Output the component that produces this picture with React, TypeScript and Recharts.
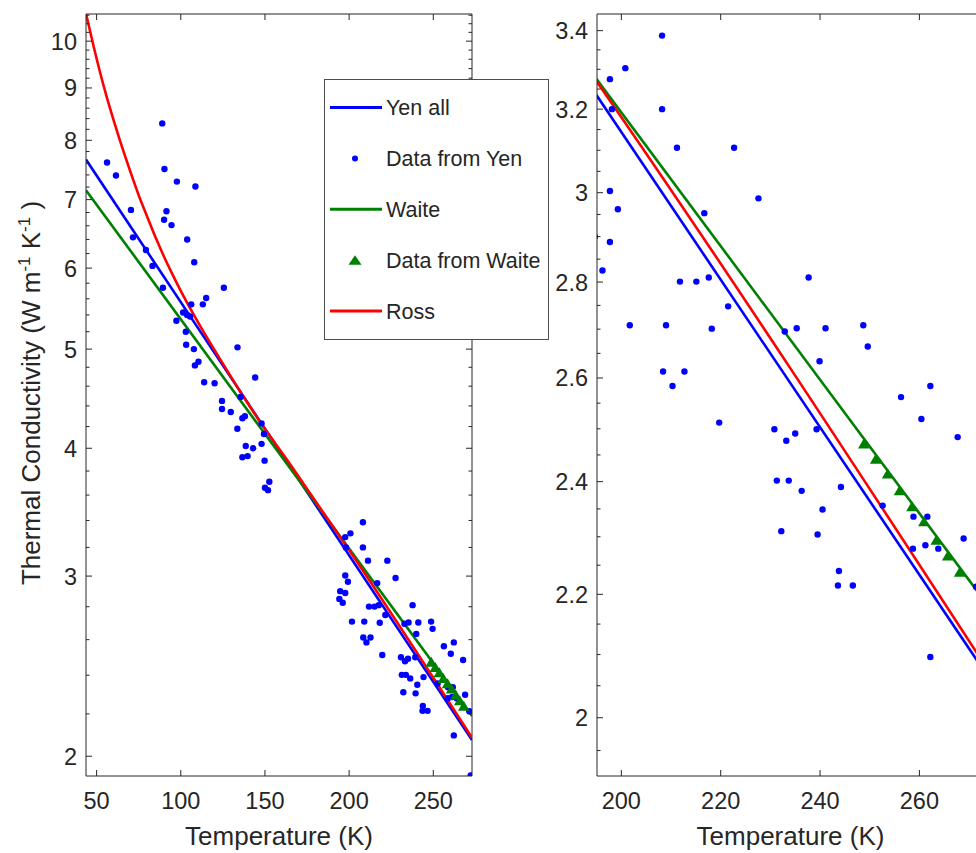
import React from "react"
import {
  ComposedChart, Line, Scatter, XAxis, YAxis, ReferenceLine, Legend,
} from "recharts"

// fitted lines
const YEN_FIT_T = [43.7, 273]
const YEN_FIT_K = [7.66, 2.074]
const WAITE_FIT_T = [43.7, 273]
const WAITE_FIT_K = [7.15, 2.19]
const ROSS_T = [43.7, 48, 52, 56, 60, 65, 70, 75, 80, 85, 90, 95, 100, 112, 125, 137, 149, 163, 178, 195, 273]
const ROSS_K = [10.64, 9.92, 9.33, 8.82, 8.38, 7.89, 7.46, 7.07, 6.74, 6.43, 6.16, 5.92, 5.7, 5.25, 4.84, 4.5, 4.2, 3.9, 3.59, 3.27, 2.085]

// Waite measurements (triangles)
const WAITE_T = [248.8, 251.2, 253.6, 256.0, 258.5, 260.9, 263.4, 265.7, 268.1]
const WAITE_K = [2.471, 2.442, 2.414, 2.383, 2.354, 2.327, 2.294, 2.266, 2.238]

// Yen measurements [T, k]
const YEN_POINTS: [number, number][] = [
  [56.2, 7.61], [61.5, 7.39], [70.4, 6.84], [71.6, 6.43], [79.3, 6.25], [83.2, 6.03],
  [89.0, 8.31], [90.3, 7.5], [91.5, 6.82], [90.1, 6.69], [94.5, 6.61], [89.4, 5.74],
  [97.7, 7.29], [108.7, 7.21], [103.8, 6.4], [108.0, 6.08], [106.2, 5.53], [113.1, 5.53],
  [115.1, 5.61], [101.4, 5.43], [103.8, 5.4], [105.5, 5.38], [97.4, 5.33], [103.0, 5.2],
  [103.2, 5.05], [107.8, 5.0], [108.4, 4.82], [110.5, 4.86], [125.6, 5.74], [133.7, 5.02],
  [113.9, 4.64], [120.1, 4.63], [144.2, 4.69], [124.5, 4.45], [124.5, 4.37], [129.7, 4.34],
  [136.6, 4.28], [138.1, 4.3], [133.6, 4.18], [135.5, 4.49], [148.0, 4.23], [138.6, 4.02],
  [143.0, 4.0], [148.0, 4.04], [136.6, 3.92], [139.7, 3.93], [149.8, 3.89], [149.4, 4.13],
  [152.6, 3.71], [150.0, 3.66], [151.8, 3.64], [194.2, 2.85], [194.7, 2.9],
  [196.2, 2.825], [197.7, 3.275], [198.1, 3.2], [197.7, 3.004], [199.3, 2.962], [197.7, 2.888],
  [200.8, 3.303], [201.7, 2.708], [208.2, 3.387], [208.2, 3.2], [211.2, 3.106], [209.0, 2.708],
  [208.4, 2.613], [212.7, 2.613], [210.3, 2.584], [211.8, 2.801], [215.1, 2.801], [217.6, 2.81],
  [216.7, 2.953], [218.2, 2.701], [221.5, 2.748], [222.7, 3.106], [227.6, 2.987], [219.7, 2.512],
  [230.8, 2.499], [232.9, 2.695], [235.3, 2.702], [237.7, 2.81], [239.9, 2.634], [241.1, 2.702],
  [248.7, 2.708], [249.6, 2.664], [256.3, 2.562], [262.2, 2.584], [260.4, 2.519], [239.3, 2.499],
  [233.2, 2.477], [235.0, 2.491], [267.7, 2.484], [231.3, 2.402], [233.7, 2.402], [236.3, 2.383],
  [244.2, 2.39], [240.5, 2.349], [232.2, 2.31], [239.5, 2.304], [252.6, 2.356], [258.8, 2.336],
  [261.6, 2.336], [258.7, 2.279], [261.2, 2.285], [263.8, 2.279], [268.9, 2.297], [243.8, 2.24],
  [243.6, 2.215], [246.6, 2.215], [262.2, 2.096], [271.4, 2.213], [272.2, 1.915],
]

// axis ticks
const LEFT_X_TICKS = [50, 100, 150, 200, 250]
const LEFT_Y_MAJOR = [2, 3, 4, 5, 6, 7, 8, 9, 10]
const RIGHT_X_TICKS = [200, 220, 240, 260]
const RIGHT_Y_MAJOR = [2, 2.2, 2.4, 2.6, 2.8, 3, 3.2, 3.4]

const BLUE = "#0000ff"
const GREEN = "#008000"
const RED = "#ff0000"
const INK = "#262626"
const FONT = '"Liberation Sans", Arial, Helvetica, sans-serif'

const toRows = (t: number[], k: number[]) => t.map((v, i) => ({ t: v, k: k[i] }))
const yenFit = toRows(YEN_FIT_T, YEN_FIT_K)
const waiteFit = toRows(WAITE_FIT_T, WAITE_FIT_K)
const ross = toRows(ROSS_T, ROSS_K)
const waiteData = toRows(WAITE_T, WAITE_K)
const yenData = YEN_POINTS.map(([t, k]) => ({ t, k }))

function minorTicks(from: number, to: number, step: number, major: number[]) {
  const out: number[] = []
  for (let v = from; v <= to + 1e-9; v += step) {
    const r = Math.round(v * 1000) / 1000
    if (!major.some(m => Math.abs(m - r) < 1e-6)) out.push(r)
  }
  return out
}

const LEGEND_ITEMS = [
  { name: "Yen all", kind: "line", color: BLUE },
  { name: "Data from Yen", kind: "dot", color: BLUE },
  { name: "Waite", kind: "line", color: GREEN },
  { name: "Data from Waite", kind: "tri", color: GREEN },
  { name: "Ross", kind: "line", color: RED },
]

function LegendBox() {
  return (
    <svg width={226} height={262} style={{ display: "block" }}>
      <rect x={0.5} y={0.5} width={224} height={260} fill="#fff" stroke="#4d4d4d" />
      {LEGEND_ITEMS.map((it, i) => {
        const cy = 28.5 + i * 50.9
        return (
          <g key={it.name}>
            {it.kind === "line" && (
              <line x1={6} x2={58} y1={cy} y2={cy} stroke={it.color} strokeWidth={3} />
            )}
            {it.kind === "dot" && <circle cx={31} cy={cy} r={3} fill={it.color} />}
            {it.kind === "tri" && (
              <polygon points={`${31 - 6.5},${cy + 4.5} ${31 + 6.5},${cy + 4.5} ${31},${cy - 5}`} fill={it.color} />
            )}
            <text x={62} y={cy} dy="0.36em" fontFamily={FONT} fontSize={21.5} fill={INK}>{it.name}</text>
          </g>
        )
      })}
    </svg>
  )
}

const dotShape = (p: any) => <circle cx={p.cx} cy={p.cy} r={3.2} fill={BLUE} />
const triShape = (p: any) => (
  <polygon
    points={`${p.cx - 5.8},${p.cy + 4.5} ${p.cx + 5.8},${p.cy + 4.5} ${p.cx},${p.cy - 5.5}`}
    fill={GREEN}
  />
)

interface PanelProps {
  width: number
  height: number
  yAxisWidth: number
  marginRight: number
  xDomain: [number, number]
  yDomain: [number, number]
  xTicks: number[]
  yMajor: number[]
  yMinor: number[]
  legend?: boolean
  yTitle?: boolean
}

const TOP = 14
const X_AXIS_H = 77

function Panel(props: PanelProps) {
  const { width, height, yAxisWidth, marginRight, xDomain, yDomain, xTicks, yMajor, yMinor } = props
  const plotW = width - yAxisWidth - marginRight
  const plotH = height - TOP - X_AXIS_H
  const yTicks = [...yMajor, ...yMinor].sort((a, b) => a - b)

  const yTick = (p: any) => {
    const { x, y, payload } = p
    const v = payload.value as number
    const isMajor = yMajor.some(m => Math.abs(m - v) < 1e-6)
    const len = isMajor ? 6 : 3.5
    return (
      <g>
        <line x1={x} y1={y} x2={x + len} y2={y} stroke={INK} />
        <line x1={x + plotW - len} y1={y} x2={x + plotW} y2={y} stroke={INK} />
        {isMajor && (
          <text x={x - 9} y={y} dy="0.36em" textAnchor="end" fontFamily={FONT} fontSize={23.5} fill={INK}>
            {String(v)}
          </text>
        )}
      </g>
    )
  }

  const xTick = (p: any) => {
    const { x, y, payload } = p
    return (
      <g>
        <line x1={x} y1={y} x2={x} y2={y - 6} stroke={INK} />
        <line x1={x} y1={y - plotH} x2={x} y2={y - plotH + 6} stroke={INK} />
        <text x={x} y={y + 32.5} textAnchor="middle" fontFamily={FONT} fontSize={23.5} fill={INK}>
          {String(payload.value)}
        </text>
      </g>
    )
  }

  const xTitle = () => (
    <text x={yAxisWidth + plotW / 2} y={TOP + plotH + 69} textAnchor="middle" fontFamily={FONT} fontSize={26} fill={INK}>
      Temperature (K)
    </text>
  )

  const yTitle = () => (
    <text transform={`translate(39.5, ${TOP + plotH / 2 - 2}) rotate(-90)`} textAnchor="middle" fontFamily={FONT} fontSize={26} fill={INK}>
      Thermal Conductivity (W m<tspan dy={-10} fontSize={17}>-1</tspan>
      <tspan dy={10}> K</tspan><tspan dy={-10} fontSize={17}>-1</tspan><tspan dy={10}> )</tspan>
    </text>
  )

  return (
    <ComposedChart width={width} height={height} margin={{ top: TOP, right: marginRight, bottom: 0, left: 0 }}>
      <XAxis
        type="number" dataKey="t" domain={xDomain} allowDataOverflow
        ticks={xTicks} interval={0} tickSize={0} tickMargin={0} tickLine={false}
        axisLine={{ stroke: INK }} tick={xTick} height={X_AXIS_H} label={xTitle}
      />
      <YAxis
        type="number" dataKey="k" scale="log" domain={yDomain} allowDataOverflow
        ticks={yTicks} interval={0} tickSize={0} tickMargin={0} tickLine={false}
        axisLine={{ stroke: INK }} tick={yTick} width={yAxisWidth}
        label={props.yTitle ? yTitle : undefined}
      />
      <ReferenceLine y={yDomain[1]} stroke={INK} />
      <ReferenceLine x={xDomain[1]} stroke={INK} />

      <Line data={yenFit} dataKey="k" stroke={BLUE} strokeWidth={2.6} dot={false} activeDot={false} isAnimationActive={false} />
      <Scatter data={yenData} dataKey="k" shape={dotShape} isAnimationActive={false} />
      <Line data={waiteFit} dataKey="k" stroke={GREEN} strokeWidth={2.6} dot={false} activeDot={false} isAnimationActive={false} />
      <Scatter data={waiteData} dataKey="k" shape={triShape} isAnimationActive={false} />
      <Line type="monotone" data={ross} dataKey="k" stroke={RED} strokeWidth={2.6} dot={false} activeDot={false} isAnimationActive={false} />

      {props.legend && (
        <Legend
          layout="vertical" align="center" verticalAlign="middle"
          wrapperStyle={{ left: 324, top: 79, width: 226, height: 262 }}
          content={() => <LegendBox />}
        />
      )}
    </ComposedChart>
  )
}

export default function App() {
  return (
    <div style={{ position: "absolute", left: 0, top: 0, width: 976, height: 853, overflow: "hidden", background: "#fff" }}>
      <div style={{ position: "absolute", left: 0, top: 0 }}>
        <Panel
          width={490} height={853} yAxisWidth={86} marginRight={18}
          xDomain={[43.7, 273]} yDomain={[1.913, 10.63]}
          xTicks={LEFT_X_TICKS} yMajor={LEFT_Y_MAJOR}
          yMinor={minorTicks(2, 10.6, 0.2, LEFT_Y_MAJOR)}
          legend yTitle
        />
      </div>
      <div style={{ position: "absolute", left: 552, top: 0 }}>
        <Panel
          width={440} height={853} yAxisWidth={45} marginRight={8}
          xDomain={[195.1, 273]} yDomain={[1.912, 3.444]}
          xTicks={RIGHT_X_TICKS} yMajor={RIGHT_Y_MAJOR}
          yMinor={minorTicks(1.95, 3.4, 0.05, RIGHT_Y_MAJOR)}
        />
      </div>
    </div>
  )
}
